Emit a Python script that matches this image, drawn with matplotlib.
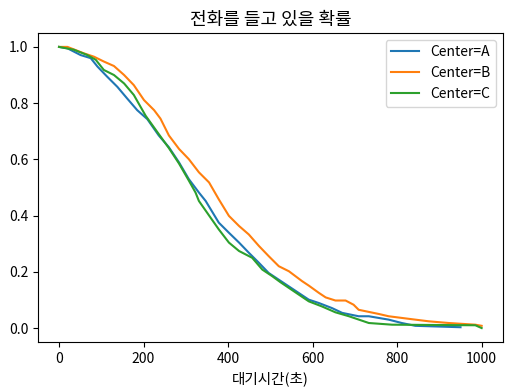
import matplotlib
matplotlib.use('Agg')
import matplotlib.pyplot as plt

plt.rcParams['font.family'] = ['Noto Sans CJK KR', 'DejaVu Sans']
plt.rcParams['axes.unicode_minus'] = False

# Waiting time (s) and probability of still holding
t_a = [0, 20, 51, 75, 91, 114, 138, 161, 185, 209, 236, 260, 284, 307, 331,
       347, 378, 402, 426, 449, 473, 496, 528, 591, 615, 646, 670, 709, 733,
       780, 811, 843, 950]
s_a = [1.0, 0.995, 0.971, 0.96, 0.93, 0.894, 0.858, 0.817, 0.775, 0.743, 0.685,
       0.643, 0.589, 0.53, 0.482, 0.452, 0.375, 0.339, 0.304, 0.268, 0.232,
       0.196, 0.164, 0.101, 0.089, 0.071, 0.054, 0.042, 0.042, 0.03, 0.018,
       0.008, 0.003]

t_b = [0, 20, 59, 83, 106, 130, 154, 177, 201, 225, 240, 260, 284, 307, 331,
       355, 378, 402, 426, 449, 473, 496, 520, 544, 575, 591, 615, 631, 654,
       678, 697, 709, 757, 780, 827, 875, 922, 985, 1000]
s_b = [1.0, 1.0, 0.977, 0.965, 0.948, 0.932, 0.9, 0.864, 0.811, 0.775, 0.745,
       0.685, 0.637, 0.601, 0.554, 0.518, 0.458, 0.399, 0.363, 0.333, 0.292,
       0.256, 0.22, 0.202, 0.167, 0.151, 0.125, 0.109, 0.098, 0.098, 0.083,
       0.065, 0.05, 0.042, 0.033, 0.024, 0.018, 0.012, 0.008]

t_c = [0, 35, 67, 87, 106, 130, 154, 177, 205, 236, 260, 284, 307, 323,
       331, 378, 402, 426, 457, 481, 504, 524, 591, 622, 654, 686, 733, 788,
       985, 1000]
s_c = [1.0, 0.99, 0.971, 0.954, 0.918, 0.9, 0.87, 0.829, 0.755, 0.69,
       0.64, 0.585, 0.525, 0.482, 0.452, 0.351, 0.304, 0.274, 0.25, 0.208,
       0.185, 0.163, 0.095, 0.077, 0.056, 0.042, 0.018, 0.012, 0.01, 0.0]

fig = plt.figure(figsize=(5.12, 3.91), dpi=100)
ax = fig.add_axes([0.074, 0.125, 0.908, 0.791])

ax.plot(t_a, s_a, label='Center=A')
ax.plot(t_b, s_b, label='Center=B')
ax.plot(t_c, s_c, label='Center=C')

ax.legend(loc='upper right')
ax.set_xlabel('대기시간(초)', fontsize=10.5)
ax.set_title('전화를 들고 있을 확률', fontsize=13)

fig.savefig('out.png', dpi=100)
plt.close()
